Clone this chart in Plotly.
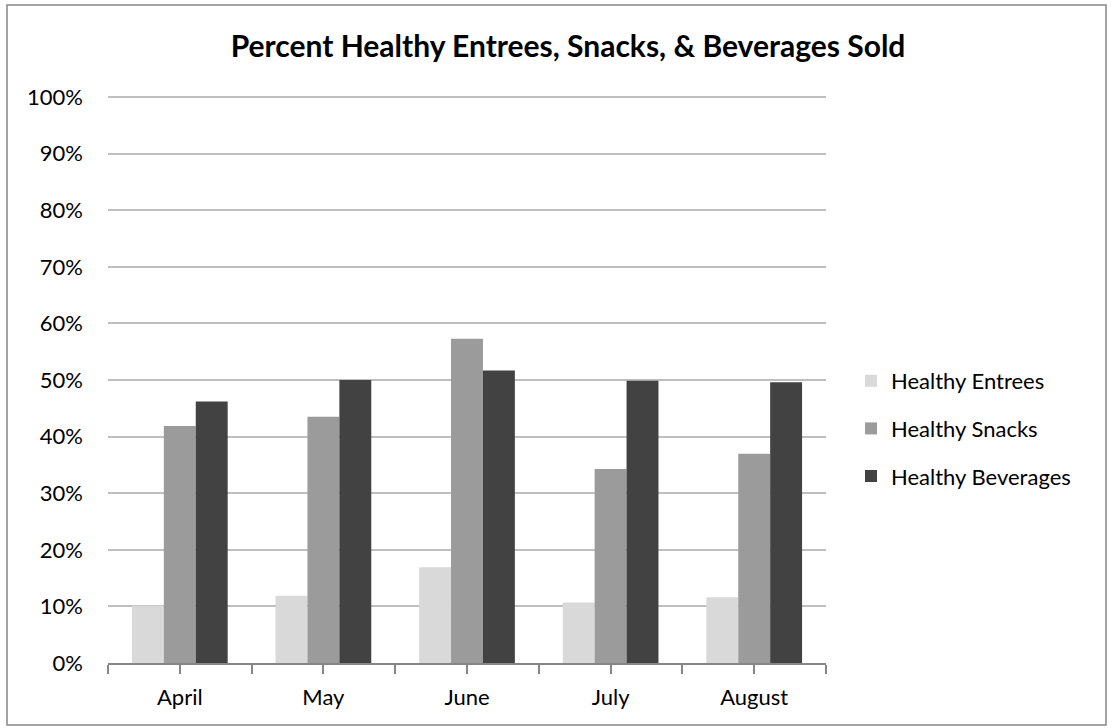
import plotly.graph_objects as go

months = ["April", "May", "June", "July", "August"]
series_names = ["Healthy Entrees", "Healthy Snacks", "Healthy Beverages"]
entrees = [0.101, 0.119, 0.169, 0.107, 0.116]
snacks = [0.419, 0.435, 0.573, 0.343, 0.370]
beverages = [0.462, 0.500, 0.517, 0.499, 0.496]
y_ticks = [i / 10 for i in range(11)]
colors = ["#d9d9d9", "#9b9b9b", "#424242"]

W, H = 1113, 728
L, R, T, B = 108, 826, 96, 663
FONT = "Lato, Carlito, Calibri, sans-serif"
Y_TOP = 1.002  # keeps the 100% gridline inside the plot area

x_pos = list(range(len(months)))
fig = go.Figure()
for name, vals, col in zip(series_names, [entrees, snacks, beverages], colors):
    fig.add_trace(go.Bar(x=x_pos, y=vals, name=name, marker_color=col,
                         marker_line_width=0, legendgroup=name))

# ticks at category centres and boundaries, labels only at centres
tickvals, ticktext = [], []
for i, m in enumerate(months):
    tickvals += [i - 0.5, i]
    ticktext += ["", m]
tickvals.append(len(months) - 0.5)
ticktext.append("")

pw, ph = R - L, B - T
def px_x(x): return (x - L) / pw
def px_y(y): return (B - y) / ph

fig.update_layout(
    width=W, height=H,
    margin=dict(l=L, r=W - R, t=T, b=H - B),
    paper_bgcolor="white", plot_bgcolor="white",
    barmode="group", bargap=1 / 3, bargroupgap=0,
    font=dict(family=FONT, size=22, color="#000000"),
    title=dict(text="<b>Percent Healthy Entrees, Snacks, & Beverages Sold</b>",
               x=568 / W, xanchor="center", y=1 - 46 / H, yanchor="middle",
               font=dict(size=30)),
    xaxis=dict(range=[-0.5, len(months) - 0.5], tickvals=tickvals, ticktext=ticktext,
               showgrid=False, zeroline=False, showline=True, linecolor="#868686",
               linewidth=2, ticks="outside", ticklen=9, tickwidth=2, tickcolor="#868686",
               ticklabelstandoff=5),
    yaxis=dict(range=[0, Y_TOP], tickvals=y_ticks, tickformat=".0%",
               showgrid=True, gridcolor="#bfbfbf", gridwidth=1.5, zeroline=False,
               showline=False, ticks="", ticklabelstandoff=24),
    legend=dict(x=px_x(851), y=px_y(360), xanchor="left", yanchor="top",
                font=dict(size=22), itemwidth=30, tracegroupgap=16,
                traceorder="grouped", bgcolor="rgba(0,0,0,0)"),
    showlegend=True,
    shapes=[dict(type="rect", xref="paper", yref="paper",
                 x0=px_x(7), x1=px_x(1106), y0=px_y(725), y1=px_y(5),
                 line=dict(color="#868686", width=1.5), fillcolor="rgba(0,0,0,0)",
                 layer="below")],
)

fig.write_html("out.html")
